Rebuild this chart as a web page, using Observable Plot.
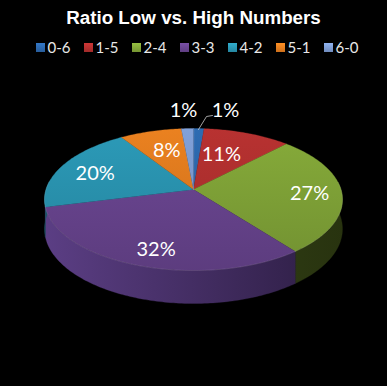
<!DOCTYPE html>
<html>
<head>
<meta charset="utf-8">
<script src="https://cdn.jsdelivr.net/npm/d3@7"></script>
<script src="https://cdn.jsdelivr.net/npm/@observablehq/plot@0.6"></script>
<style>
html,body{margin:0;padding:0;background:#000;width:387px;height:386px;overflow:hidden}
#title{height:38px;text-align:center;color:#fff;font:bold 18.8px/36px "Liberation Sans",sans-serif}
#legend{height:18px;display:flex;color:#e8e8e8;font:15px/20px Lato,sans-serif;padding-left:35.5px}
#legend span{display:flex;align-items:center;gap:3px;width:48px;flex:none}
#legend i{display:inline-block;width:9px;height:9px}
svg{display:block}
</style>
</head>
<body>
<div id="title">Ratio Low vs. High Numbers</div>
<div id="legend"></div>
<div id="chart"></div>
<script>
const categories = ["0-6","1-5","2-4","3-3","4-2","5-1","6-0"];
const values = [1.3, 10.9, 27.3, 31.6, 19.7, 7.7, 1.5];
const labels = ["1%","11%","27%","32%","20%","8%","1%"];
const topColors = ["#2c68ad","#b3302f","#82a638","#6a4591","#2a96b3","#e47d1f","#7d9cd2"];
const sideLeft = ["#1c4272","#6b1e1d","#3e4f1e","#5b3e84","#1a5566","#8a4c12","#4c6080"];
const sideRight = ["#1c4272","#6b1e1d","#28330f","#2c1d42","#1a5566","#8a4c12","#4c6080"];
const labelRadius = [1.0,0.6,0.79,0.82,0.72,0.64,1.0];
const labelShift = [[32,-79],[-6,0],[-1,1],[7,0],[-3,2],[2,0],[-10,-79]];

// layout
const W = 387, H = 330, top0 = 56;
const cx = 193, cy = 189 - top0, R = 147.5, S = 69.6, k = 0.141, depth = 33;
const total = d3.sum(values);
const cum = d3.cumsum(values);
const project = (a, r = 1) => {
  const u = r * Math.sin(a), v = -r * Math.cos(a), w = 1 - k * v;
  return {x: R * u / w, y: S * v / w, v};
};
const wall = p => depth * (1 + k * (p.v - 1) * 0.9);
const slices = categories.map((c, i) => ({
  c, i, a0: ((cum[i] - values[i]) / total) * 2 * Math.PI, a1: (cum[i] / total) * 2 * Math.PI
}));
const topPts = [], sidePts = [], rimPts = [];
for (const s of slices) {
  const n = Math.max(3, Math.ceil((s.a1 - s.a0) * 60));
  topPts.push({x: 0, y: 0, i: s.i});
  const front = [];
  for (let j = 0; j <= n; ++j) {
    const p = project(s.a0 + (s.a1 - s.a0) * j / n);
    topPts.push({x: p.x, y: p.y, i: s.i});
    if (p.v > -0.12) front.push(p);
  }
  if (front.length > 1) {
    for (const p of front) {
      sidePts.push({x: p.x, y: p.y, i: s.i});
      rimPts.push({x: p.x, y: p.y, i: s.i});
    }
    for (const p of front.slice().reverse()) sidePts.push({x: p.x, y: p.y + wall(p), i: s.i});
  }
}
const labelData = slices.map((s, i) => {
  const p = labelRadius[i] === 1 ? {x: 0, y: 0} : project((s.a0 + s.a1) / 2, labelRadius[i]);
  return {x: p.x + labelShift[i][0], y: p.y + labelShift[i][1], t: labels[i]};
});
const leader = [{x: 5, y: -60}, {x: 13, y: -73}, {x: 19, y: -74}];

const gradientDefs = () => {
  const svg = d3.create("svg:g");
  const defs = svg.append("defs");
  topColors.forEach((col, i) => {
    const g = defs.append("linearGradient").attr("id", "g" + i)
      .attr("gradientUnits", "userSpaceOnUse").attr("x1", 0).attr("x2", 0)
      .attr("y1", cy - 65).attr("y2", cy + 85);
    const c = d3.color(col);
    g.append("stop").attr("offset", 0).attr("stop-color", c.brighter(0.1).formatHex());
    g.append("stop").attr("offset", 1).attr("stop-color", c.darker(0.4).formatHex());
    const h = defs.append("linearGradient").attr("id", "s" + i)
      .attr("gradientUnits", "userSpaceOnUse").attr("y1", 0).attr("y2", 0)
      .attr("x1", 45).attr("x2", 343);
    h.append("stop").attr("offset", 0).attr("stop-color", sideLeft[i]);
    h.append("stop").attr("offset", 1).attr("stop-color", sideRight[i]);
  });
  return svg.node();
};

const chart = Plot.plot({
  width: W, height: H, margin: 0,
  x: {domain: [-cx, W - cx], range: [0, W], axis: null},
  y: {domain: [-cy, H - cy], range: [0, H], axis: null},
  style: {background: "#000"},
  marks: [
    gradientDefs,
    Plot.line(sidePts, {x: "x", y: "y", z: "i", fill: d => `url(#s${d.i})`, stroke: d => `url(#s${d.i})`, strokeWidth: 0.3, curve: "linear-closed"}),
    Plot.line(topPts, {x: "x", y: "y", z: "i", fill: d => `url(#g${d.i})`, stroke: d => `url(#g${d.i})`, strokeWidth: 0.3, curve: "linear-closed"}),
    Plot.line(rimPts, {x: "x", y: "y", z: "i", stroke: "#fff", strokeOpacity: 0.1, strokeWidth: 1}),
    Plot.line(leader, {x: "x", y: "y", stroke: "#ccc", strokeWidth: 0.8}),
    Plot.text(labelData, {x: "x", y: "y", text: "t", fill: "#fff", fontSize: 20, fontFamily: "Lato, sans-serif"})
  ]
});
document.getElementById("chart").append(chart);

const legend = document.getElementById("legend");
categories.forEach((c, i) => {
  const s = document.createElement("span");
  const sw = document.createElement("i");
  sw.style.background = `linear-gradient(${d3.color(topColors[i]).brighter(0.4)},${d3.color(topColors[i]).darker(0.3)})`;
  s.append(sw, c);
  legend.append(s);
});
</script>
</body>
</html>
